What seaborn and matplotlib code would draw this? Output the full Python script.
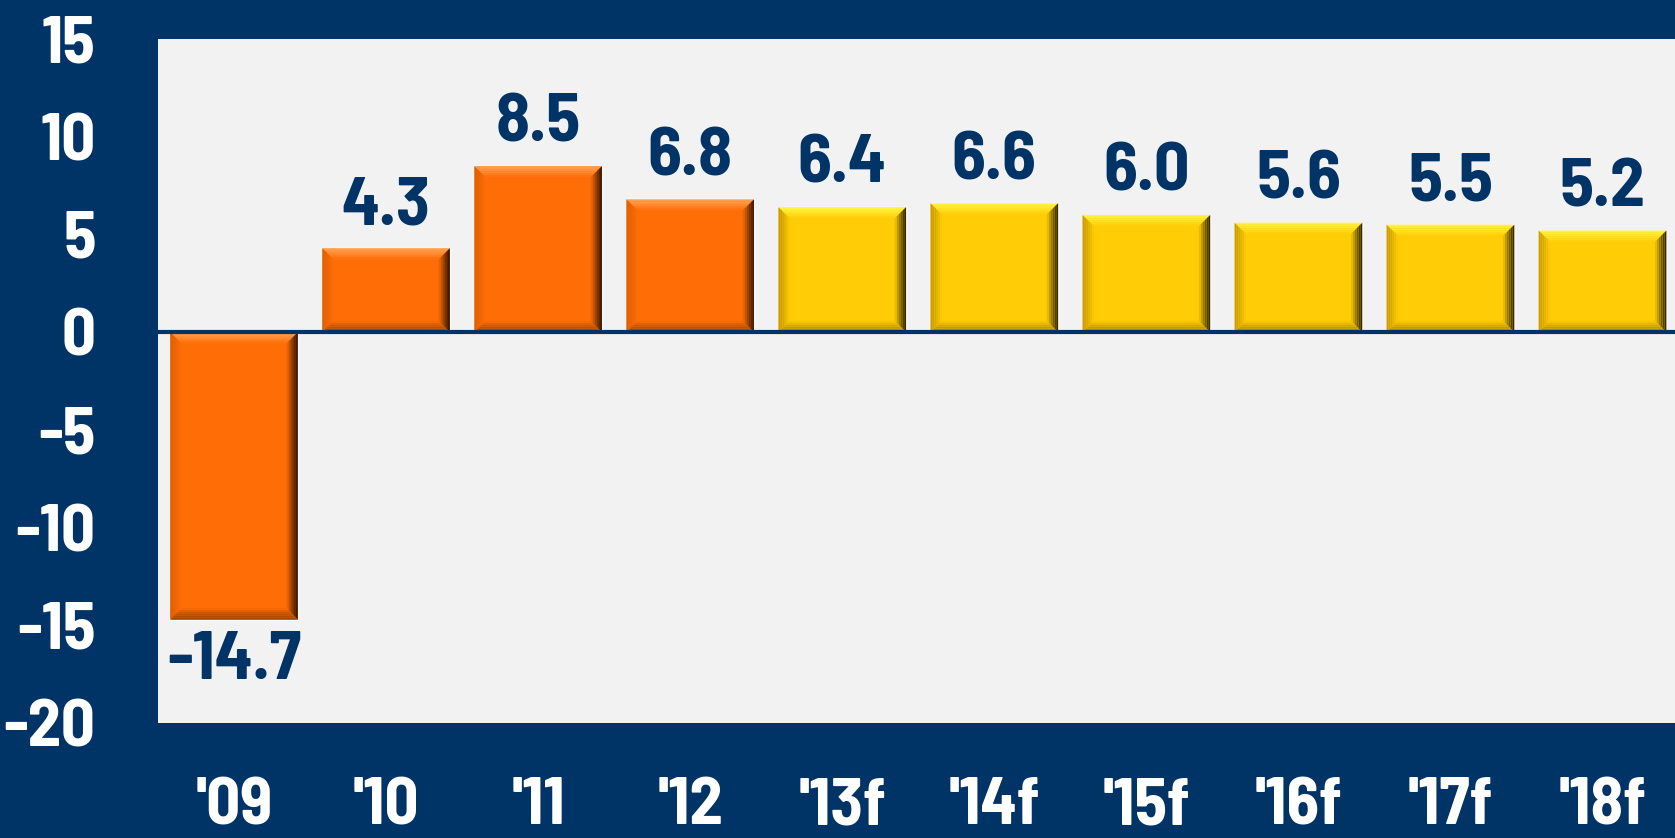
import numpy as np
import pandas as pd
import seaborn as sns
import matplotlib.pyplot as plt
from matplotlib.patches import Polygon
from matplotlib.colors import to_rgb

years = ["'09", "'10", "'11", "'12", "'13f", "'14f", "'15f", "'16f", "'17f", "'18f"]
growth = [-14.7, 4.3, 8.5, 6.8, 6.4, 6.6, 6.0, 5.6, 5.5, 5.2]
bar_colors = ["#FF6D07"] * 4 + ["#FFCC05"] * 6
y_ticks = [-20, -15, -10, -5, 0, 5, 10, 15]

NAVY = "#003366"
PANEL = "#F2F2F2"

# bevel edge colours (outer edge) per base colour: top, left, right, bottom
bevels = {
    "#FF6D07": ("#FFA050", "#E06000", "#3A1800", "#A04400"),
    "#FFCC05": ("#FFF540", "#C89A00", "#2E2400", "#A88400"),
}

sns.set_theme(style="white")
plt.rcParams["font.family"] = ["Barlow Semi Condensed", "Asap Condensed", "DejaVu Sans"]

df = pd.DataFrame({"year": years, "growth": growth})

fig = plt.figure(figsize=(16.75, 8.38), dpi=100, facecolor=NAVY)
ax = fig.add_axes([0.0943, 0.137, 0.906, 0.8165])
ax.set_facecolor(PANEL)

sns.barplot(data=df, x="year", y="growth", hue="year", palette=bar_colors,
            legend=False, width=0.84, saturation=1, ax=ax, zorder=2)

ax.set_ylim(-20, 15)
ax.set_xlim(-0.5, 9.48)
ax.set_yticks(y_ticks)
ax.set_yticklabels([str(t) for t in y_ticks])
ax.set_xlabel("")
ax.set_ylabel("")
for s in ax.spines.values():
    s.set_visible(False)
ax.tick_params(axis="y", length=0, pad=45, labelsize=48, labelcolor="white")
ax.tick_params(axis="x", length=0, pad=39, labelsize=48, labelcolor="white")
for lbl in ax.get_xticklabels() + ax.get_yticklabels():
    lbl.set_fontweight("bold")


def mix(c1, c2, t):
    a, b = np.array(to_rgb(c1)), np.array(to_rgb(c2))
    return tuple(a * (1 - t) + b * t)


# bevel shading derived from each bar patch, drawn as gradient slices
bx, by = 0.075, 0.58
n = 6
for p, c in zip(ax.patches, bar_colors):
    x0, w = p.get_x(), p.get_width()
    y0, h = p.get_y(), p.get_height()
    x1 = x0 + w
    lo, hi = min(y0, y0 + h), max(y0, y0 + h)
    top, left, right, bot = bevels[c]
    for i in range(n):
        a, b = i / n, (i + 1) / n
        t = (i + 0.5) / n
        dxa, dxb, dya, dyb = bx * a, bx * b, by * a, by * b
        shapes = [
            ([(x0 + dxa, hi - dya), (x1 - dxa, hi - dya),
              (x1 - dxb, hi - dyb), (x0 + dxb, hi - dyb)], top),
            ([(x0 + dxa, lo + dya), (x0 + dxa, hi - dya),
              (x0 + dxb, hi - dyb), (x0 + dxb, lo + dyb)], left),
            ([(x1 - dxa, lo + dya), (x1 - dxa, hi - dya),
              (x1 - dxb, hi - dyb), (x1 - dxb, lo + dyb)], right),
            ([(x0 + dxa, lo + dya), (x1 - dxa, lo + dya),
              (x1 - dxb, lo + dyb), (x0 + dxb, lo + dyb)], bot),
        ]
        for pts, edge in shapes:
            ax.add_patch(Polygon(pts, closed=True, facecolor=mix(edge, c, t ** 1.3),
                                 edgecolor="none", zorder=3))

ax.axhline(0, color=NAVY, lw=3, zorder=4)

for cont in ax.containers:
    ax.bar_label(cont, fmt="%.1f", padding=8, fontsize=50, fontweight="bold",
                 color=NAVY)

fig.savefig("out.png", dpi=100, facecolor=NAVY)
